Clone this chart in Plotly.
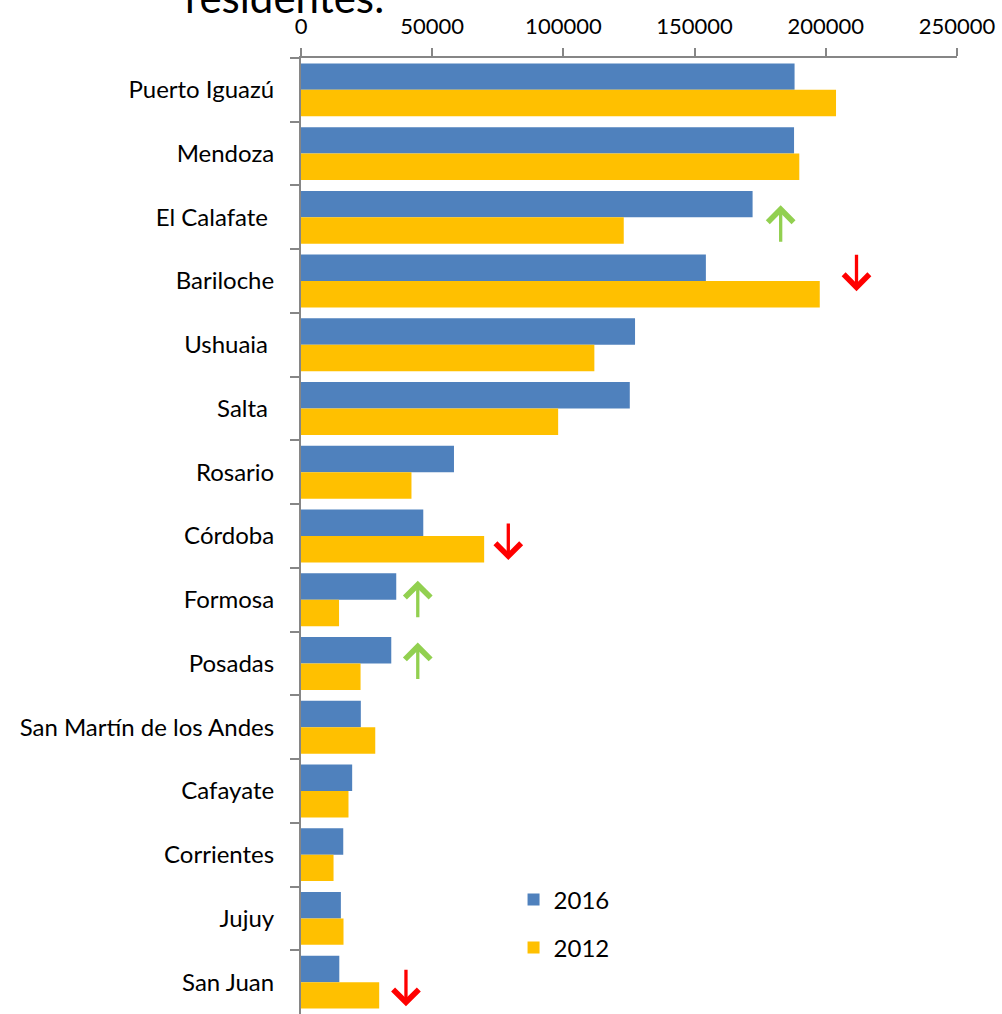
import plotly.graph_objects as go

# ---- data ----
categories = ["Puerto Iguazú", "Mendoza", "El Calafate\u00a0", "Bariloche", "Ushuaia\u00a0",
              "Salta\u00a0", "Rosario", "Córdoba", "Formosa", "Posadas",
              "San Martín de los Andes", "Cafayate", "Corrientes", "Jujuy", "San Juan"]
values_2016 = [188100, 187900, 172100, 154300, 127300, 125300, 58300, 46600, 36300, 34400,
               22800, 19500, 16100, 15200, 14600]
values_2012 = [203900, 189900, 123000, 197700, 111800, 98000, 42100, 69800, 14500, 22700,
               28300, 18100, 12400, 16200, 29800]
series_names = ["2016", "2012"]
x_tick_values = [0, 50000, 100000, 150000, 200000, 250000]
x_tick_labels = ["0", "50000", "100000", "150000", "200000", "250000"]

# change markers: x in data units, y in category-index units (0 = Puerto Iguazú)
arrow_x = [182800, 211700, 79000, 44500, 44500, 40000]
arrow_y = [2.11, 2.86, 7.08, 8.0, 8.97, 14.08]
arrow_dir = ["up", "down", "down", "up", "up", "down"]

title_text = "residentes:"

# ---- styles ----
BLUE = "#4F81BD"
YELLOW = "#FFC000"
GREEN = "#92D050"
RED = "#FF0000"
AXIS = "#868686"
FONT = "Lato"

fig = go.Figure()
fig.add_trace(go.Bar(y=categories, x=values_2016, name=series_names[0], orientation="h",
                     marker=dict(color=BLUE, line=dict(width=0)), legendgroup="a"))
fig.add_trace(go.Bar(y=categories, x=values_2012, name=series_names[1], orientation="h",
                     marker=dict(color=YELLOW, line=dict(width=0)), legendgroup="b"))

annotations = []
for xv, yv, d in zip(arrow_x, arrow_y, arrow_dir):
    up = d == "up"
    annotations.append(dict(
        x=xv, y=yv, xref="x", yref="y",
        ax=xv, axref="x", ay=38 if up else -38, ayref="pixel",
        yshift=-19 if not up else 19,
        showarrow=True, arrowhead=4, arrowsize=1.5, arrowwidth=3.3,
        arrowcolor=GREEN if up else RED, text="", standoff=0,
    ))

annotations.append(dict(
    text=title_text, x=-0.0244, y=1.036, xref="paper", yref="paper",
    xanchor="center", yanchor="bottom", showarrow=False,
    font=dict(family=FONT, size=42, color="black"),
))

fig.update_layout(
    width=1002, height=1014,
    margin=dict(l=301, r=45, t=58, b=0, pad=0),
    paper_bgcolor="white", plot_bgcolor="white",
    barmode="group", bargap=0.17, bargroupgap=0,
    font=dict(family=FONT, size=24, color="black"),
    showlegend=True,
    legend=dict(x=0.324, y=0.143, xanchor="left", yanchor="top",
                font=dict(family=FONT, size=24, color="black"),
                tracegroupgap=14, traceorder="grouped", bgcolor="rgba(0,0,0,0)"),
    annotations=annotations,
)

fig.update_xaxes(side="top", range=[0, 250000], tickvals=x_tick_values, ticktext=x_tick_labels,
                 showgrid=False, zeroline=False, showline=True, linecolor=AXIS, linewidth=2,
                 ticks="outside", ticklen=8, tickwidth=2, tickcolor=AXIS,
                 ticklabelstandoff=5, tickfont=dict(family=FONT, size=22, color="black"))
fig.update_yaxes(autorange="reversed", showgrid=False, zeroline=False, showline=True,
                 linecolor=AXIS, linewidth=2, ticks="outside", ticklen=9, tickwidth=2,
                 tickcolor=AXIS, tickson="boundaries", ticklabelstandoff=20,
                 tickfont=dict(family=FONT, size=24, color="black"))

fig.write_html("out.html", config={"displayModeBar": False},
               post_script="document.body.style.margin='0px';document.body.style.overflow='hidden';")
